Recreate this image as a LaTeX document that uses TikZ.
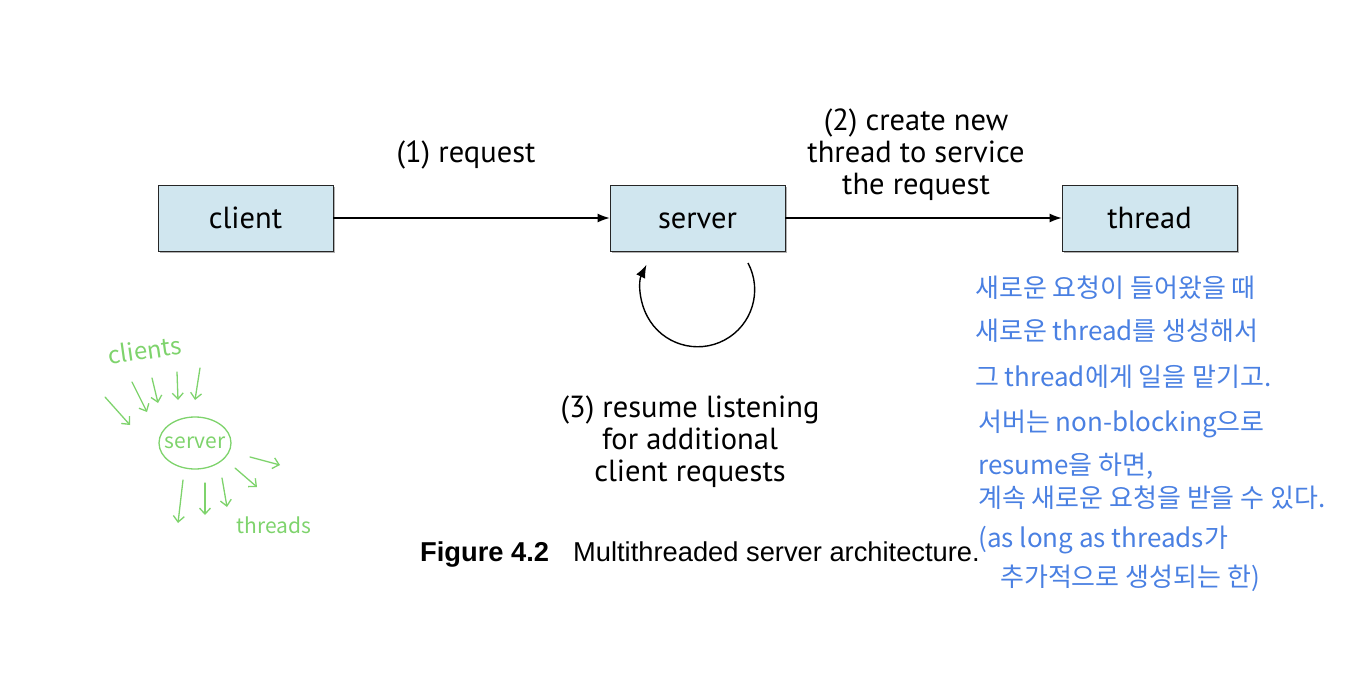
\documentclass[tikz,border=0pt]{standalone}
\usepackage{fontspec}
\setmainfont{PT Sans}
\newfontfamily\capfont{Liberation Sans}
\newfontfamily\krfont{Noto Sans CJK KR}
\usetikzlibrary{arrows.meta,shapes.geometric}
\definecolor{boxfill}{HTML}{D0E6EF}
\definecolor{penblue}{HTML}{4A80E2}
\definecolor{pengreen}{HTML}{7ED36C}
\tikzset{
  procbox/.style={draw=black!85, line width=0.9pt, fill=boxfill, minimum width=175pt, minimum height=66pt, inner sep=0pt, text height=23pt, text depth=2pt, font=\fontsize{30.5}{32}\selectfont},
  lbl/.style={align=center, font=\fontsize{30.5}{32}\selectfont, inner sep=0pt},
  flow/.style={line width=1.1pt, -{Latex[length=12pt,width=9pt]}},
  note/.style={anchor=west, inner sep=0pt, text=penblue, font=\krfont\fontsize{26}{28}\selectfont},
  sketch/.style={draw=pengreen, line width=1.3pt, line cap=round, -{Straight Barb[length=6pt,width=11pt]}},
  sketchtext/.style={text=pengreen, inner sep=0pt, font=\krfont\fontsize{21}{22}\selectfont}
}
\begin{document}
\begin{tikzpicture}[x=1pt,y=-1pt]
\useasboundingbox (0,0) rectangle (1372,698);
% shadows
\fill[black!30] (160,187) rectangle (335,253);
\fill[black!30] (612,187) rectangle (787,253);
\fill[black!30] (1064,187) rectangle (1239,253);
\node[procbox] (client) at (245.5,218) {client};
\node[procbox] (server) at (697.5,218) {server};
\node[procbox] (thread) at (1149.5,218) {thread};
\draw[flow] (client) -- (server);
\draw[flow] (server) -- (thread);
\node[lbl] (l1) at (466,155) {(1) request};
\node[lbl] (l2) at (916,155) {(2) create new\\thread to service\\the request};
\node[lbl] (l3) at (690,442) {(3) resume listening\\for additional\\client requests};
\coordinate (loopstart) at (748,263);
\draw[line width=1.4pt, -{Latex[length=13pt,width=10pt]}] (loopstart) arc[start angle=-28, end angle=206, radius=57];
\node[anchor=west, inner sep=0pt, font=\capfont\fontsize{27.3}{29}\selectfont] (cap) at (420,554) {\textbf{Figure 4.2}\hspace{24pt}Multithreaded server architecture.};
% blue handwritten notes
\node[note] (n1) at (975,288) {새로운 요청이 들어왔을 때};
\node[note] (n2) at (975,331) {새로운 thread를 생성해서};
\node[note] (n3) at (975,377) {그 thread에게 일을 맡기고.};
\node[note] (n4) at (978,424) {서버는 non-blocking으로};
\node[note] (n5) at (978,466) {resume을 하면,};
\node[note] (n6) at (978,498) {계속 새로운 요청을 받을 수 있다.};
\node[note] (n7) at (978,540) {(as long as threads가};
\node[note] (n8) at (1000,578) {추가적으로 생성되는 한)};
% green sketch
\node[sketchtext, rotate=8, font=\krfont\fontsize{24}{26}\selectfont] (gclients) at (145,350) {clients};
\node[sketchtext, draw=pengreen, line width=1.3pt, ellipse, minimum width=72pt, minimum height=52pt] (gserver) at (195,443) {};
\node[sketchtext] (gserverlbl) at (195,443) {server};
\node[sketchtext] (gthreads) at (274,525) {threads};
\coordinate (a1s) at (105,397); \coordinate (a1e) at (130,425);
\coordinate (a2s) at (132,382); \coordinate (a2e) at (147,412);
\coordinate (a3s) at (152,378); \coordinate (a3e) at (158,403);
\coordinate (a4s) at (177,372); \coordinate (a4e) at (178,400);
\coordinate (a5s) at (200,368); \coordinate (a5e) at (195,400);
\coordinate (b1s) at (183,480); \coordinate (b1e) at (178,523);
\coordinate (b2s) at (205,483); \coordinate (b2e) at (205,515);
\coordinate (b3s) at (222,478); \coordinate (b3e) at (227,507);
\coordinate (b4s) at (235,468); \coordinate (b4e) at (257,487);
\coordinate (b5s) at (250,457); \coordinate (b5e) at (280,465);
\foreach \n in {a1,a2,a3,a4,a5,b1,b2,b3,b4,b5} {\draw[sketch] (\n s) -- (\n e);}
\end{tikzpicture}
\end{document}
